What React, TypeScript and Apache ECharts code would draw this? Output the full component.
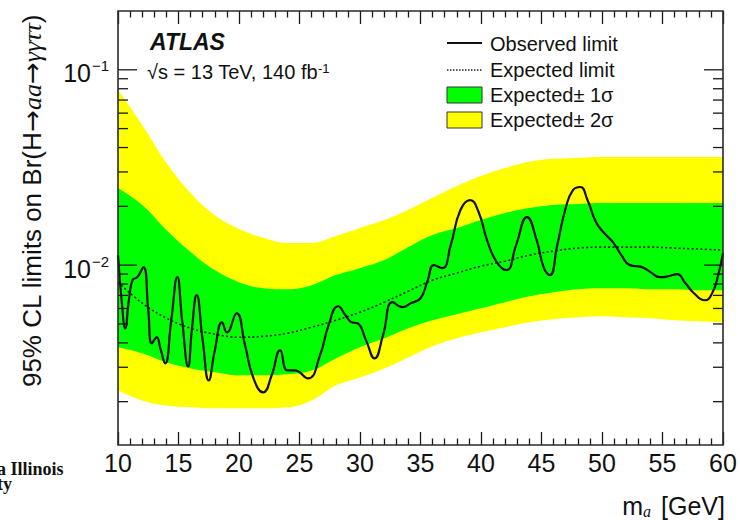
import React, { useEffect, useRef } from 'react';
import * as echarts from 'echarts';

// ---------- data ----------
const massGrid = [10, 12, 14, 16, 18, 20, 22, 24, 26, 28, 30, 32, 34, 36, 38, 40, 42, 44, 46, 48, 50, 52, 54, 56, 58, 60];
const yellowHigh = [0.079, 0.0522, 0.0334, 0.0234, 0.018, 0.0153, 0.0138, 0.013, 0.013, 0.0141, 0.0155, 0.017, 0.0192, 0.0221, 0.0254, 0.0286, 0.0314, 0.0338, 0.035, 0.0354, 0.0358, 0.0358, 0.0358, 0.0358, 0.0358, 0.0358];
const greenHigh = [0.0248, 0.0203, 0.01512, 0.01166, 0.00943, 0.00818, 0.00762, 0.00753, 0.0079, 0.00889, 0.00965, 0.01061, 0.01237, 0.01425, 0.01548, 0.01702, 0.01848, 0.0196, 0.0203, 0.02055, 0.0208, 0.0208, 0.0208, 0.0208, 0.0208, 0.0208];
const greenLow = [0.0038, 0.00354, 0.00318, 0.00296, 0.00283, 0.00273, 0.00273, 0.00276, 0.00289, 0.00333, 0.0038, 0.00422, 0.00475, 0.00522, 0.00561, 0.00602, 0.00646, 0.00693, 0.00727, 0.00753, 0.00762, 0.00762, 0.00753, 0.00753, 0.00744, 0.00744];
const yellowLow = [0.00229, 0.00203, 0.00191, 0.00187, 0.00185, 0.00185, 0.00185, 0.00187, 0.00203, 0.00242, 0.00266, 0.00296, 0.00337, 0.00384, 0.00422, 0.00453, 0.00481, 0.0051, 0.00529, 0.00541, 0.00548, 0.00541, 0.00535, 0.00522, 0.00516, 0.0051];
const expectedLimit = [0.00818, 0.00639, 0.00535, 0.00475, 0.00443, 0.00427, 0.00432, 0.00448, 0.00481, 0.00522, 0.00574, 0.00646, 0.00736, 0.00838, 0.0091, 0.00988, 0.01048, 0.01125, 0.0118, 0.01222, 0.01237, 0.01237, 0.01237, 0.01222, 0.01208, 0.01194];

const obsMass = [10.0, 10.3, 10.6, 10.9, 11.2, 11.6, 12.1, 12.5, 12.8, 13.2, 13.5, 13.9, 14.4, 14.9, 15.3, 15.8, 16.1, 16.5, 17.0, 17.5, 18.0, 18.6, 19.0, 19.8, 20.5, 21.2, 22.0, 22.7, 23.4, 24.0, 24.6, 25.7, 26.7, 27.4, 28.2, 28.8, 29.3, 29.8, 30.5, 31.2, 31.9, 32.7, 33.5, 34.2, 35.0, 35.6, 36.1, 36.8, 37.5, 38.3, 39.1, 39.8, 40.5, 41.3, 42.1, 42.9, 43.8, 44.6, 45.2, 45.7, 46.3, 47.0, 47.6, 48.2, 48.8, 49.5, 50.1, 50.9, 51.6, 52.3, 53.3, 54.0, 54.8, 55.5, 56.2, 56.9, 57.6, 58.5, 59.1, 59.6, 60.0];
const observedLimit = [0.01125, 0.00661, 0.00475, 0.00661, 0.00838, 0.00868, 0.00977, 0.00588, 0.00398, 0.00427, 0.00375, 0.00314, 0.00522, 0.00868, 0.00522, 0.00303, 0.00464, 0.00702, 0.00412, 0.00257, 0.00366, 0.0051, 0.00453, 0.00567, 0.00389, 0.00263, 0.00223, 0.00273, 0.00366, 0.00289, 0.00289, 0.00263, 0.00346, 0.00492, 0.00616, 0.00554, 0.0051, 0.00504, 0.00412, 0.00333, 0.00437, 0.00646, 0.00609, 0.00639, 0.00677, 0.00838, 0.01, 0.00965, 0.01266, 0.01915, 0.02154, 0.0187, 0.01343, 0.01036, 0.00943, 0.01266, 0.01763, 0.01343, 0.00965, 0.00889, 0.01266, 0.0196, 0.02424, 0.02512, 0.02154, 0.01661, 0.01477, 0.01312, 0.01125, 0.01, 0.00977, 0.00921, 0.00868, 0.00878, 0.00899, 0.00808, 0.00718, 0.00661, 0.00718, 0.00889, 0.01152];

const xMin = 10;
const xMax = 60;
const xStep = 5;
const yMin = 0.0012;
const yMax = 0.2;
const yMajorTicks = [0.01, 0.1];
const yMajorExponents = ['\u22122', '\u22121'];
const yMinorTicks = [0.002, 0.003, 0.004, 0.005, 0.006, 0.007, 0.008, 0.009, 0.02, 0.03, 0.04, 0.05, 0.06, 0.07, 0.08, 0.09];

const legendLabels = ['Observed limit', 'Expected limit', 'Expected\u00b1 1\u03c3', 'Expected\u00b1 2\u03c3'];

const SANS = "'Liberation Sans', Arial, Helvetica, sans-serif";
const SERIF = "'Liberation Serif', 'Times New Roman', serif";
const INK = '#1a1a1a';
const GREEN = '#00ff00';
const YELLOW = '#ffff00';

export default function App() {
  const ref = useRef<HTMLDivElement>(null);

  useEffect(() => {
    document.body.style.margin = '0';
    if (!ref.current) return;
    const chart = echarts.init(ref.current, undefined, { renderer: 'svg' });

    const band = (values: number[], color: string) => ({
      type: 'line',
      data: massGrid.map((m, i) => [m, values[i]]),
      smooth: 0.4,
      symbol: 'none',
      silent: true,
      lineStyle: { width: 0 },
      areaStyle: { color, opacity: 1, origin: 'start' },
      z: 2,
    });

    const yTickData = [
      ...yMinorTicks.map((v) => [xMin, v, 0, -1]),
      ...yMajorTicks.map((v, i) => [xMin, v, 1, i]),
    ];

    const option: any = {
      animation: false,
      backgroundColor: '#ffffff',
      grid: { left: 118, right: 17, top: 11, bottom: 75, containLabel: false, outerBoundsMode: 'none' },
      xAxis: [
        {
          type: 'value', min: xMin, max: xMax, interval: xStep, position: 'bottom', z: 11,
          axisLine: { show: false },
          axisTick: { show: true, inside: true, length: 13, lineStyle: { color: INK, width: 1.3 } },
          minorTick: { show: true, splitNumber: 5, length: 6.5, lineStyle: { color: INK, width: 1.3 } },
          axisLabel: { show: true, fontSize: 25, fontFamily: SANS, color: '#111', margin: 5 },
          splitLine: { show: false },
        },
        {
          type: 'value', min: xMin, max: xMax, interval: xStep, position: 'top', z: 11,
          axisLine: { show: false },
          axisTick: { show: true, inside: true, length: 13, lineStyle: { color: INK, width: 1.3 } },
          minorTick: { show: true, splitNumber: 5, length: 6.5, lineStyle: { color: INK, width: 1.3 } },
          axisLabel: { show: false },
          splitLine: { show: false },
        },
      ],
      yAxis: {
        type: 'log', logBase: 10, min: yMin, max: yMax,
        axisLine: { show: false }, axisTick: { show: false }, axisLabel: { show: false },
        splitLine: { show: false },
      },
      series: [
        band(yellowHigh, YELLOW),
        band(greenHigh, GREEN),
        band(greenLow, YELLOW),
        band(yellowLow, '#ffffff'),
        {
          type: 'line', name: 'Expected limit',
          data: massGrid.map((m, i) => [m, expectedLimit[i]]),
          smooth: 0.4, symbol: 'none', silent: true, z: 4,
          lineStyle: { color: '#222', width: 1.6, type: [2, 2.4] },
        },
        {
          type: 'line', name: 'Observed limit',
          data: obsMass.map((m, i) => [m, observedLimit[i]]),
          smooth: 0.5, symbol: 'none', silent: true, z: 5,
          lineStyle: { color: '#111', width: 2.2 },
        },
        {
          type: 'custom', silent: true, z: 10, clip: false,
          data: yTickData,
          encode: { x: 0, y: 1 },
          renderItem: (params: any, api: any) => {
            const v = api.value(1);
            const major = api.value(2) === 1;
            const idx = api.value(3);
            const pl = api.coord([xMin, v]);
            const pr = api.coord([xMax, v]);
            const len = major ? 19 : 10;
            const st = { stroke: INK, lineWidth: 1.3 };
            const children: any[] = [
              { type: 'line', shape: { x1: pl[0], y1: pl[1], x2: pl[0] + len, y2: pl[1] }, style: st },
              { type: 'line', shape: { x1: pr[0] - len, y1: pr[1], x2: pr[0], y2: pr[1] }, style: st },
            ];
            if (major) {
              children.push({
                type: 'text', x: pl[0] - 27, y: pl[1] + 3.5,
                style: { text: '10', fontSize: 25, fontFamily: SANS, fill: '#111', align: 'right', verticalAlign: 'middle' },
              });
              children.push({
                type: 'text', x: pl[0] - 26, y: pl[1] - 4,
                style: { text: yMajorExponents[idx], fontSize: 15, fontFamily: SANS, fill: '#111', align: 'left', verticalAlign: 'middle' },
              });
            }
            return { type: 'group', children };
          },
        },
        {
          type: 'custom', silent: true, z: 12, clip: false,
          data: [[xMin, yMin, xMax, yMax]],
          encode: { x: [0, 2], y: [1, 3] },
          renderItem: (params: any, api: any) => {
            const p0 = api.coord([api.value(0), api.value(1)]);
            const p1 = api.coord([api.value(2), api.value(3)]);
            return {
              type: 'rect',
              shape: { x: p0[0], y: p1[1], width: p1[0] - p0[0], height: p0[1] - p1[1] },
              style: { fill: 'none', stroke: '#2a2a2a', lineWidth: 1.6 },
            };
          },
        },
      ],
      graphic: [
        { type: 'text', x: 150, y: 41.5, z: 20, style: { text: 'ATLAS', fontSize: 23, fontWeight: 'bold', fontStyle: 'italic', fontFamily: SANS, fill: '#111', align: 'left', verticalAlign: 'middle' } },
        {
          type: 'text', x: 147, y: 71.5, z: 20,
          style: {
            text: '{n|\u221as = 13 TeV, 140 fb}{s|-1}', align: 'left', verticalAlign: 'middle', fill: '#111',
            rich: {
              n: { fontSize: 20, fontFamily: SANS, fill: '#111', verticalAlign: 'bottom' },
              s: { fontSize: 13, fontFamily: SANS, fill: '#111', verticalAlign: 'top' },
            },
          },
        },
        // legend
        { type: 'line', z: 20, shape: { x1: 447, y1: 43, x2: 482, y2: 43 }, style: { stroke: '#111', lineWidth: 2.2 } },
        { type: 'line', z: 20, shape: { x1: 447, y1: 70, x2: 482, y2: 70 }, style: { stroke: '#222', lineWidth: 1.5, lineDash: [1.5, 1.5] } },
        { type: 'rect', z: 20, shape: { x: 447, y: 87, width: 35, height: 16 }, style: { fill: GREEN, stroke: '#333', lineWidth: 1 } },
        { type: 'rect', z: 20, shape: { x: 447, y: 112, width: 35, height: 16 }, style: { fill: YELLOW, stroke: '#333', lineWidth: 1 } },
        ...legendLabels.map((t, i) => ({
          type: 'text', x: 490, y: [43.5, 70, 95, 120][i], z: 20,
          style: { text: t, fontSize: 20, fontFamily: SANS, fill: '#111', align: 'left', verticalAlign: 'middle' },
        })),
        // axis titles
        {
          type: 'text', x: 32, y: 201, rotation: Math.PI / 2, z: 20,
          style: {
            text: '{n|95% CL limits on Br(H}{a|\u2192}{i|aa}{a|\u2192}{i|\u03b3\u03b3\u03c4\u03c4}{n|)}',
            align: 'center', verticalAlign: 'middle',
            rich: {
              n: { fontSize: 26, fontFamily: SANS, fill: '#111' },
              a: { fontSize: 26, fontFamily: "'DejaVu Sans', sans-serif", fill: '#111' },
              i: { fontSize: 26, fontFamily: SERIF, fontStyle: 'italic', fill: '#111' },
            },
          },
        },
        { type: 'text', x: 643, y: 506, z: 20, style: { text: 'm', fontSize: 25, fontFamily: SANS, fill: '#111', align: 'right', verticalAlign: 'middle' } },
        { type: 'text', x: 643, y: 511, z: 20, style: { text: 'a', fontSize: 16, fontFamily: SERIF, fontStyle: 'italic', fill: '#111', align: 'left', verticalAlign: 'middle' } },
        { type: 'text', x: 725, y: 506, z: 20, style: { text: '[GeV]', fontSize: 25, fontFamily: SANS, fill: '#111', align: 'right', verticalAlign: 'middle' } },
        // partial logo text at the lower left (cut by the page edge, as in the reference)
        { type: 'text', x: -3, y: 461, z: 20, style: { text: 'a Illinois\nty', fontSize: 18, lineHeight: 15, fontWeight: 'bold', fontFamily: SERIF, fill: '#111', align: 'left', verticalAlign: 'top' } },
      ],
    };

    chart.setOption(option);
    return () => chart.dispose();
  }, []);

  return <div ref={ref} style={{ width: 740, height: 520 }} />;
}
